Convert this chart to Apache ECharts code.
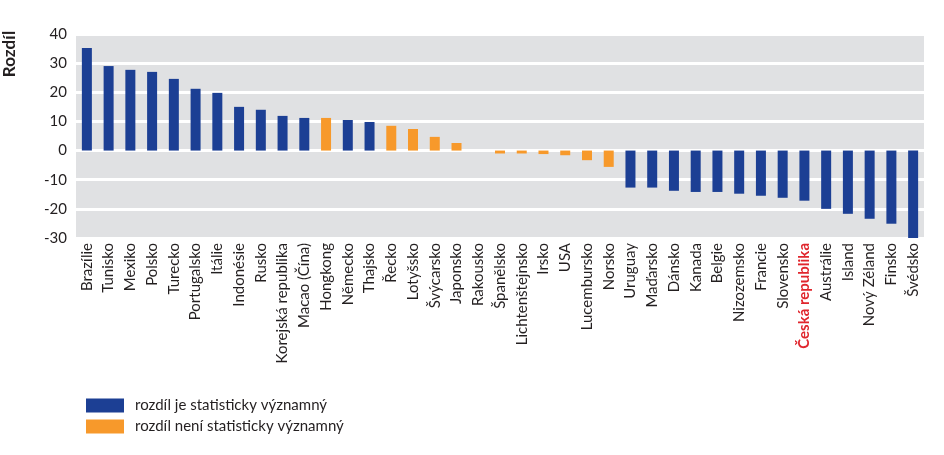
<!DOCTYPE html>
<html><head><meta charset="utf-8">
<script src="https://cdn.jsdelivr.net/npm/echarts@6/dist/echarts.min.js"></script>
<style>html,body{margin:0;padding:0;background:#fff}#c{width:944px;height:455px}</style>
</head><body><div id="c"></div>
<script>
const categories = ['Brazílie','Tunisko','Mexiko','Polsko','Turecko','Portugalsko','Itálie','Indonésie','Rusko','Korejská republika','Macao (Čína)','Hongkong','Německo','Thajsko','Řecko','Lotyšsko','Švýcarsko','Japonsko','Rakousko','Španělsko','Lichtenštejnsko','Irsko','USA','Lucembursko','Norsko','Uruguay','Maďarsko','Dánsko','Kanada','Belgie','Nizozemsko','Francie','Slovensko','Česká republika','Austrálie','Island','Nový Zéland','Finsko','Švédsko'];
const values = [35.2,29.0,27.7,27.0,24.6,21.2,19.8,15.0,14.0,11.9,11.2,11.2,10.5,9.8,8.5,7.4,4.7,2.6,0,-1.0,-1.0,-1.2,-1.6,-3.3,-5.6,-12.7,-12.7,-13.8,-14.2,-14.2,-14.8,-15.5,-16.2,-17.2,-20.0,-21.7,-23.4,-25.1,-30.5];
const significant = [1,1,1,1,1,1,1,1,1,1,1,0,1,1,0,0,0,0,0,0,0,0,0,0,0,1,1,1,1,1,1,1,1,1,1,1,1,1,1];
const yTicks = [-30,-20,-10,0,10,20,30,40];
const seriesNames = ['rozdíl je statisticky významný','rozdíl není statisticky významný'];
const highlight = 'Česká republika';

const FONT = 'Lato';
const TXT = '#231f20';
const sigData = values.map((v,i)=> significant[i] ? v : '-');
const nsData = values.map((v,i)=> significant[i] ? '-' : v);

const chart = echarts.init(document.getElementById('c'));
chart.setOption({
  animation:false,
  textStyle:{fontFamily:FONT,color:TXT},
  grid:{left:76,right:20,top:34,bottom:217,show:true,backgroundColor:'#e0e1e3',borderWidth:0},
  legend:{
    orient:'vertical',left:81,top:393,itemWidth:38,itemHeight:14,itemGap:6,
    icon:'rect',
    textStyle:{fontFamily:FONT,fontSize:15,color:TXT,padding:[0,0,0,6]},
    data:seriesNames
  },
  graphic:[{type:'text',x:10,y:54,rotation:Math.PI/2,
    style:{text:'Rozdíl',fontFamily:FONT,fontSize:17,fontWeight:'bold',fill:TXT,align:'center',verticalAlign:'middle'}}],
  xAxis:{
    type:'category',data:categories,
    axisLine:{show:false,onZero:false},axisTick:{show:false},
    axisLabel:{rotate:90,interval:0,margin:5,fontFamily:FONT,fontSize:15,color:TXT,
      formatter:v=> v===highlight ? '{h|'+v+'}' : v,
      rich:{h:{color:'#e0262d',fontWeight:'bold',fontFamily:FONT,fontSize:15}}}
  },
  yAxis:{
    type:'value',min:yTicks[0],max:yTicks[yTicks.length-1],interval:10,
    axisLine:{show:false},axisTick:{show:false},
    axisLabel:{fontFamily:FONT,fontSize:15,color:TXT,margin:9},
    splitLine:{show:true,lineStyle:{color:'#ffffff',width:3}}
  },
  series:[
    {name:seriesNames[0],type:'bar',data:sigData,barWidth:10,barGap:'-100%',itemStyle:{color:'#1c3f94'},clip:true},
    {name:seriesNames[1],type:'bar',data:nsData,barWidth:10,barGap:'-100%',itemStyle:{color:'#f7992b'},clip:true}
  ]
});
</script></body></html>
